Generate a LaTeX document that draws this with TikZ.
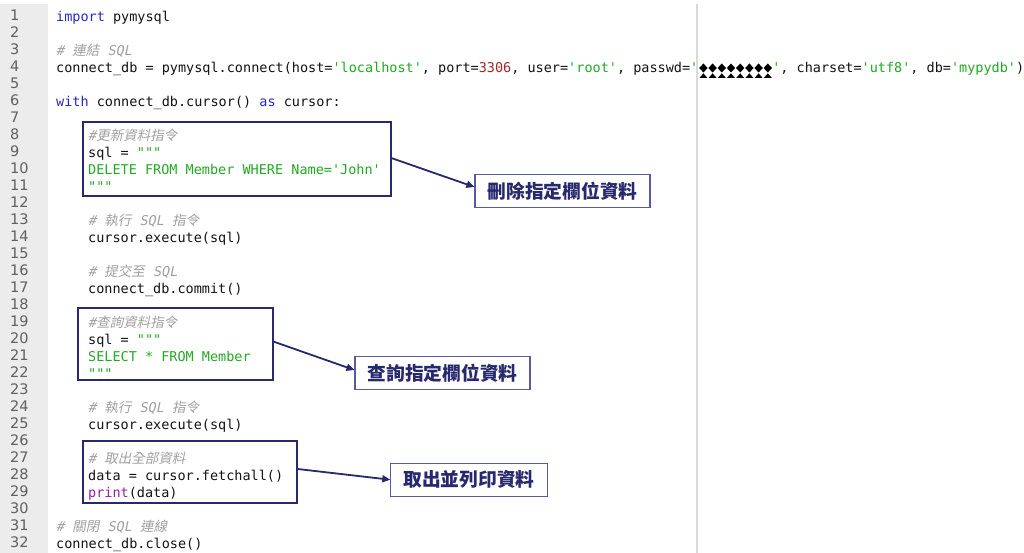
\documentclass[tikz,border=0pt]{standalone}
\usepackage{fontspec}
\usetikzlibrary{arrows.meta}
\newfontfamily\mono{DejaVu Sans Mono}
\newfontfamily\monoit[FakeSlant=0.2]{DejaVu Sans Mono}
\newfontfamily\cjkit[FakeSlant=0.2]{Noto Sans CJK TC}
\newfontfamily\cjk{Noto Sans CJK TC}
\newfontfamily\numfont{DejaVu Sans}
\definecolor{kw}{RGB}{40,40,200}
\definecolor{str}{RGB}{34,170,34}
\definecolor{cmt}{RGB}{160,160,160}
\definecolor{num}{RGB}{160,40,40}
\definecolor{prn}{RGB}{160,30,160}
\definecolor{txt}{RGB}{20,20,20}
\definecolor{navy}{RGB}{40,40,110}
\definecolor{lblbd}{RGB}{90,90,160}
\definecolor{gut}{RGB}{236,236,236}
\definecolor{gnum}{RGB}{96,96,96}
\definecolor{vline}{RGB}{218,218,218}
\newcommand\cmt[1]{\textcolor{cmt}{\monoit #1}}
\newcommand\cj[1]{{\cjkit #1}}
\tikzset{
  code/.style={anchor=base west, inner sep=0pt, font=\fontsize{13.5}{16}\selectfont\mono, text=txt},
  lnum/.style={anchor=base west, inner sep=0pt, font=\fontsize{14.5}{16}\selectfont\numfont, text=gnum},
  hbox/.style={draw=navy, line width=2pt, inner sep=0pt},
  lbl/.style={draw=lblbd, line width=1.2pt, fill=white, inner xsep=12.5pt, inner ysep=0pt,
    minimum height=33pt, font=\fontsize{18.75}{20}\selectfont\cjk\bfseries, text=navy},
  arr/.style={draw=navy, line width=1.8pt, -{Triangle[length=8pt,width=7pt]}},
}
\begin{document}
\begin{tikzpicture}[x=1pt,y=-1pt]
\useasboundingbox (0,0) rectangle (1024,553);
\fill[white] (0,0) rectangle (1024,553);
\fill[gut] (0,4) rectangle (48,553);
\draw[vline, line width=2pt] (697,4) -- (697,553);
\foreach \n in {1,...,32} \node[lnum] (n\n) at (10,{21+(\n-1)*16.97}) {\n};
% code
\node[code] (l1) at (56,22) {\textcolor{kw}{import} pymysql};
\node[code] (l3) at (56,55.94) {\cmt{\# \cj{連結} SQL}};
\node[code] (l4) at (56,72.91) {connect\_db = pymysql.connect(host=\textcolor{str}{'localhost'}, port=\textcolor{num}{3306}, user=\textcolor{str}{'root'}, passwd=\textcolor{str}{'}\hspace{74pt}\textcolor{str}{'}, charset=\textcolor{str}{'utf8'}, db=\textcolor{str}{'mypydb'})};
\foreach \i in {0,...,7} {
  \fill[black] ({703.4+9.2*\i},63.5) -- ({707.6+9.2*\i},68) -- ({703.4+9.2*\i},72.5) -- ({699.2+9.2*\i},68) -- cycle;
  \fill[black] ({703.4+9.2*\i},73.3) -- ({707.4+9.2*\i},78) -- ({699.4+9.2*\i},78) -- cycle;
}
\node[code] (l6) at (56,106.85) {\textcolor{kw}{with} connect\_db.cursor() \textcolor{kw}{as} cursor:};
\node[code] (l8) at (88,140.79) {\cmt{\#\cj{更新資料指令}}};
\node[code] (l9) at (88,157.76) {sql = \textcolor{str}{"""}};
\node[code] (l10) at (88,174.73) {\textcolor{str}{DELETE FROM Member WHERE Name='John'}};
\node[code] (l11) at (88,191.70) {\textcolor{str}{"""}};
\node[code] (l13) at (88,225.64) {\cmt{\# \cj{執行} SQL \cj{指令}}};
\node[code] (l14) at (88,242.61) {cursor.execute(sql)};
\node[code] (l16) at (88,276.55) {\cmt{\# \cj{提交至} SQL}};
\node[code] (l17) at (88,293.52) {connect\_db.commit()};
\node[code] (l19) at (88,327.46) {\cmt{\#\cj{查詢資料指令}}};
\node[code] (l20) at (88,344.43) {sql = \textcolor{str}{"""}};
\node[code] (l21) at (88,361.40) {\textcolor{str}{SELECT * FROM Member}};
\node[code] (l22) at (88,378.37) {\textcolor{str}{"""}};
\node[code] (l24) at (88,412.31) {\cmt{\# \cj{執行} SQL \cj{指令}}};
\node[code] (l25) at (88,429.28) {cursor.execute(sql)};
\node[code] (l27) at (88,463.22) {\cmt{\# \cj{取出全部資料}}};
\node[code] (l28) at (88,480.19) {data = cursor.fetchall()};
\node[code] (l29) at (88,497.16) {\textcolor{prn}{print}(data)};
\node[code] (l31) at (56,531.10) {\cmt{\# \cj{關閉} SQL \cj{連線}}};
\node[code] (l32) at (56,548.07) {connect\_db.close()};
% highlight boxes
\node[hbox, minimum width=308pt, minimum height=73.7pt] (b1) at (236.7,159.15) {};
\node[hbox, minimum width=194.4pt, minimum height=71.7pt] (b2) at (175.5,344.15) {};
\node[hbox, minimum width=214pt, minimum height=62pt] (b3) at (189.7,472) {};
% labels
\node[lbl] (L1) at (562.5,191) {刪除指定欄位資料};
\node[lbl] (L2) at (442.5,373) {查詢指定欄位資料};
\node[lbl] (L3) at (469,479.7) {取出並列印資料};
% arrows
\draw[arr] ([yshift=1pt]b1.east) -- ([yshift=4pt]L1.west);
\draw[arr] ([yshift=2.5pt]b2.east) -- ([yshift=3pt]L2.west);
\draw[arr] ([yshift=3pt]b3.east) -- (L3.west);
\end{tikzpicture}
\end{document}
